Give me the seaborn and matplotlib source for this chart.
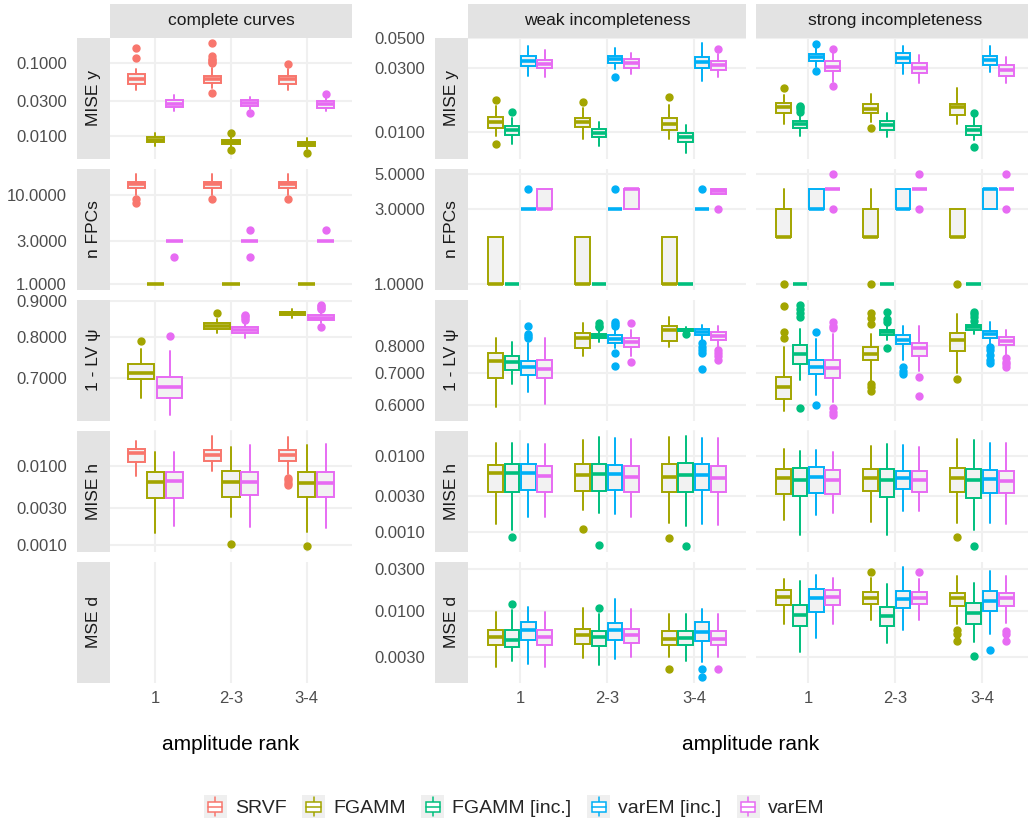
import numpy as np
import matplotlib
matplotlib.use("Agg")
import matplotlib.pyplot as plt
import seaborn as sns
from matplotlib.patches import Rectangle, Patch
from matplotlib.lines import Line2D
from matplotlib.legend_handler import HandlerBase
from matplotlib.ticker import FixedLocator, FuncFormatter, NullLocator

# ---------------------------------------------------------------------------
# categories
RANKS = ["1", "2-3", "3-4"]
METHODS = ["SRVF", "FGAMM", "FGAMM [inc.]", "varEM [inc.]", "varEM"]
METRICS = ["MISE y", "n FPCs", "1 - LV \u03c8", "MISE h", "MSE d"]
SCENARIOS = ["complete curves", "weak incompleteness", "strong incompleteness"]
COLORS = ["#F8766D", "#A3A500", "#00BF7D", "#00B0F6", "#E76BF3"]

# box summaries per method: one (lower whisker, q1, median, q3, upper whisker)
# tuple per amplitude rank; outliers listed separately per rank
MISE_Y_COMPLETE = {
    "SRVF": [(0.0428, 0.0506, 0.0592, 0.0693, 0.0828), (0.0446, 0.0527, 0.0598, 0.0665, 0.0836), (0.0428, 0.0518, 0.0592, 0.0665, 0.0828)],
    "FGAMM": [(0.00725, 0.0082, 0.00893, 0.00969, 0.0110), (0.00708, 0.0077, 0.0084, 0.00893, 0.0102), (0.00659, 0.00725, 0.00788, 0.0084, 0.0095)],
    "varEM": [(0.0217, 0.0248, 0.0276, 0.0306, 0.0358), (0.0236, 0.0254, 0.0282, 0.0306, 0.0340), (0.0217, 0.0244, 0.0270, 0.0297, 0.0334)],
}
MISE_Y_COMPLETE_OUT = {
    "SRVF": [[0.160, 0.117], [0.185, 0.122, 0.112, 0.107, 0.102, 0.098, 0.0385], [0.0969]],
    "FGAMM": [[], [0.0111, 0.00638], [0.00587]],
    "varEM": [[], [0.0206], [0.0378]],
}
NFPC_COMPLETE = {
    "SRVF": [(10, 12, 13, 14, 17), (10, 12, 13, 14, 17), (10, 12, 13, 14, 17)],
    "FGAMM": [(1, 1, 1, 1, 1), (1, 1, 1, 1, 1), (1, 1, 1, 1, 1)],
    "varEM": [(3, 3, 3, 3, 3), (3, 3, 3, 3, 3), (3, 3, 3, 3, 3)],
}
NFPC_COMPLETE_OUT = {
    "SRVF": [[9, 8], [9], [9]],
    "FGAMM": [[], [], []],
    "varEM": [[2], [4, 2], [4]],
}
LV_COMPLETE = {
    "FGAMM": [(0.655, 0.698, 0.711, 0.732, 0.768), (0.811, 0.822, 0.830, 0.838, 0.850), (0.851, 0.859, 0.865, 0.870, 0.878)],
    "varEM": [(0.619, 0.655, 0.678, 0.701, 0.765), (0.797, 0.811, 0.818, 0.826, 0.836), (0.838, 0.847, 0.853, 0.861, 0.870)],
}
LV_COMPLETE_OUT = {
    "FGAMM": [[0.789], [0.866], []],
    "varEM": [[0.804], [0.847, 0.852, 0.856, 0.859], [0.876, 0.881, 0.885, 0.889, 0.826]],
}
MISE_H_COMPLETE = {
    "SRVF": [(0.00745, 0.01135, 0.01452, 0.01664, 0.02104), (0.0087, 0.01169, 0.01382, 0.0160, 0.02415), (0.00807, 0.01158, 0.0137, 0.0160, 0.02366)],
    "FGAMM": [(0.00145, 0.00398, 0.0063, 0.00846, 0.01523), (0.00225, 0.00414, 0.0063, 0.00863, 0.01764), (0.00149, 0.00414, 0.00612, 0.00846, 0.01838)],
    "varEM": [(0.00175, 0.00398, 0.00649, 0.00846, 0.01523), (0.00168, 0.00427, 0.0063, 0.00846, 0.01838), (0.00165, 0.00406, 0.00612, 0.00846, 0.0191)],
}
MISE_H_COMPLETE_OUT = {
    "SRVF": [[], [], [0.0072, 0.0067, 0.0062, 0.0058]],
    "FGAMM": [[], [0.00103], [0.00098]],
    "varEM": [[], [], []],
}

MISE_Y_WEAK = {
    "FGAMM": [(0.00939, 0.01082, 0.01193, 0.01306, 0.01569), (0.00902, 0.0109, 0.01199, 0.01284, 0.01508), (0.00902, 0.0104, 0.01152, 0.0127, 0.01596)],
    "FGAMM [inc.]": [(0.00819, 0.00966, 0.0104, 0.01114, 0.0127), (0.00791, 0.00927, 0.00993, 0.01053, 0.01199), (0.00705, 0.00851, 0.00918, 0.00983, 0.01133)],
    "varEM [inc.]": [(0.02621, 0.03111, 0.03389, 0.03648, 0.04329), (0.02939, 0.03292, 0.03508, 0.03693, 0.0421), (0.02406, 0.0299, 0.03332, 0.03611, 0.04589)],
    "varEM": [(0.02564, 0.0299, 0.03236, 0.03447, 0.04093), (0.02713, 0.0302, 0.03258, 0.0349, 0.03868), (0.0259, 0.02906, 0.03165, 0.0335, 0.03802)],
}
MISE_Y_WEAK_OUT = {
    "FGAMM": [[0.01738, 0.00828], [0.01689], [0.0182]],
    "FGAMM [inc.]": [[0.01423], [], []],
    "varEM [inc.]": [[], [0.0259], []],
    "varEM": [[], [], [0.0414]],
}
MISE_Y_STRONG = {
    "FGAMM": [(0.01152, 0.01398, 0.01534, 0.0166, 0.01894), (0.01199, 0.01384, 0.01497, 0.01623, 0.01927), (0.01152, 0.01344, 0.0155, 0.01623, 0.02124)],
    "FGAMM [inc.]": [(0.00939, 0.01071, 0.01147, 0.0122, 0.01384), (0.00927, 0.0104, 0.01127, 0.0122, 0.01398), (0.00877, 0.00966, 0.0104, 0.01114, 0.01306)],
    "varEM [inc.]": [(0.03074, 0.0335, 0.03611, 0.03821, 0.04329), (0.02713, 0.03258, 0.03549, 0.03868, 0.0438), (0.02822, 0.03165, 0.03447, 0.03693, 0.04329)],
    "varEM": [(0.02378, 0.02855, 0.03074, 0.0335, 0.03868), (0.02313, 0.02774, 0.0302, 0.03258, 0.03755), (0.02337, 0.02621, 0.02906, 0.03165, 0.03611)],
}
MISE_Y_STRONG_OUT = {
    "FGAMM": [[0.02146], [0.01071], []],
    "FGAMM [inc.]": [[0.01569, 0.01536, 0.01503, 0.01423], [], [0.01398, 0.00782]],
    "varEM [inc.]": [[0.04535, 0.0287], [], []],
    "varEM": [[0.04161, 0.02209], [], []],
}
NFPC_WEAK = {
    "FGAMM": [(1, 1, 1, 2, 2), (1, 1, 1, 2, 2), (1, 1, 1, 2, 2)],
    "FGAMM [inc.]": [(1, 1, 1, 1, 1), (1, 1, 1, 1, 1), (1, 1, 1, 1, 1)],
    "varEM [inc.]": [(3, 3, 3, 3, 3), (3, 3, 3, 3, 3), (3, 3, 3, 3, 3)],
    "varEM": [(3, 3, 3, 4, 4), (3, 3, 4, 4, 4), (3.75, 3.75, 3.88, 4, 4)],
}
NFPC_WEAK_OUT = {
    "FGAMM": [[], [], []],
    "FGAMM [inc.]": [[], [], []],
    "varEM [inc.]": [[4], [4], [4]],
    "varEM": [[], [], [3]],
}
NFPC_STRONG = {
    "FGAMM": [(2, 2, 2, 3, 4), (2, 2, 2, 3, 4), (2, 2, 2, 3, 3)],
    "FGAMM [inc.]": [(1, 1, 1, 1, 1), (1, 1, 1, 1, 1), (1, 1, 1, 1, 1)],
    "varEM [inc.]": [(3, 3, 3, 4, 4), (3, 3, 3, 4, 4), (3, 3, 4, 4, 4)],
    "varEM": [(4, 4, 4, 4, 4), (4, 4, 4, 4, 4), (4, 4, 4, 4, 4)],
}
NFPC_STRONG_OUT = {
    "FGAMM": [[1], [1], [1]],
    "FGAMM [inc.]": [[], [], []],
    "varEM [inc.]": [[], [], []],
    "varEM": [[5, 3], [5, 3], [5, 3]],
}
LV_WEAK = {
    "FGAMM": [(0.5934, 0.6826, 0.7437, 0.7738, 0.8326), (0.7617, 0.7901, 0.8287, 0.8511, 0.8926), (0.7940, 0.8193, 0.8623, 0.8789, 0.9188)],
    "FGAMM [inc.]": [(0.6634, 0.7101, 0.7377, 0.7617, 0.8154), (0.8154, 0.8287, 0.8380, 0.8487, 0.8705), (0.8551, 0.8593, 0.8649, 0.8692, 0.8745)],
    "varEM [inc.]": [(0.6376, 0.6924, 0.7203, 0.7437, 0.8091), (0.7901, 0.8115, 0.8260, 0.8420, 0.8692), (0.8220, 0.8420, 0.8551, 0.8692, 0.8872)],
    "varEM": [(0.6030, 0.6817, 0.7126, 0.7472, 0.8287), (0.7617, 0.7962, 0.8154, 0.8326, 0.8649), (0.7940, 0.8220, 0.8380, 0.8551, 0.8830)],
}
LV_WEAK_OUT = {
    "FGAMM": [[], [], []],
    "FGAMM [inc.]": [[], [0.8926, 0.883, 0.878], [0.8487]],
    "varEM [inc.]": [[0.883, 0.8487, 0.8378, 0.8287], [0.897, 0.891, 0.883, 0.7738, 0.7238], [0.809, 0.7951, 0.7839, 0.7717, 0.7148]],
    "varEM": [[], [0.8958, 0.7390], [0.7839, 0.7735, 0.7617, 0.7472]],
}
LV_STRONG = {
    "FGAMM": [(0.5812, 0.6175, 0.6528, 0.6881, 0.7940), (0.6739, 0.7447, 0.7689, 0.7940, 0.8487), (0.7013, 0.7814, 0.8220, 0.8511, 0.9363)],
    "FGAMM [inc.]": [(0.6771, 0.7329, 0.7689, 0.8028, 0.8692), (0.8220, 0.8420, 0.8551, 0.8649, 0.8830), (0.8487, 0.8649, 0.8760, 0.8858, 0.8970)],
    "varEM [inc.]": [(0.6293, 0.6958, 0.7203, 0.7472, 0.8248), (0.7472, 0.8064, 0.8220, 0.8420, 0.8830), (0.8028, 0.8326, 0.8487, 0.8593, 0.8970)],
    "varEM": [(0.6078, 0.6817, 0.7169, 0.7472, 0.8458), (0.7066, 0.7617, 0.7901, 0.8091, 0.8789), (0.7642, 0.8028, 0.8193, 0.8350, 0.8649)],
}
LV_STRONG_OUT = {
    "FGAMM": [[0.9714, 0.8554, 0.8287], [0.9408, 0.9143, 0.8901, 0.6634, 0.654, 0.6424], [0.6792]],
    "FGAMM [inc.]": [[0.9761, 0.957, 0.939, 0.9188, 0.5907], [0.9454, 0.9118, 0.897, 0.7901], [0.9454, 0.934, 0.922, 0.9043]],
    "varEM [inc.]": [[0.8554, 0.600], [0.7215, 0.7086, 0.6958], [0.7962, 0.7839, 0.7642, 0.7472, 0.7358]],
    "varEM": [[0.897, 0.883, 0.872, 0.5888, 0.580, 0.5702], [0.6881, 0.6272], [0.7522, 0.7395, 0.7326, 0.7203]],
}
MISE_H_WEAK = {
    "FGAMM": [(0.00128, 0.00338, 0.00593, 0.00768, 0.01491), (0.00195, 0.00349, 0.00565, 0.00775, 0.01654), (0.00132, 0.00338, 0.00536, 0.00792, 0.01792)],
    "FGAMM [inc.]": [(0.00104, 0.00338, 0.00601, 0.00792, 0.0151), (0.00179, 0.00349, 0.00582, 0.00792, 0.01792), (0.00119, 0.00338, 0.0057, 0.00806, 0.01848)],
    "varEM [inc.]": [(0.00157, 0.0036, 0.00593, 0.00775, 0.01463), (0.00171, 0.0036, 0.00575, 0.00768, 0.01722), (0.00128, 0.00356, 0.00565, 0.00775, 0.01759)],
    "varEM": [(0.00154, 0.00338, 0.00548, 0.00736, 0.01432), (0.00154, 0.00338, 0.00536, 0.00729, 0.01669), (0.00122, 0.00338, 0.00509, 0.00736, 0.01759)],
}
MISE_H_WEAK_OUT = {
    "FGAMM": [[], [0.00108], [0.000832]],
    "FGAMM [inc.]": [[0.000858], [0.000665], [0.000645]],
    "varEM [inc.]": [[], [], []],
    "varEM": [[], [], []],
}
MISE_H_STRONG = {
    "FGAMM": [(0.00142, 0.00315, 0.00515, 0.00679, 0.01228), (0.00136, 0.00349, 0.00509, 0.00679, 0.01347), (0.00132, 0.00338, 0.00509, 0.00692, 0.01669)],
    "FGAMM [inc.]": [(0.000895, 0.00293, 0.00485, 0.0070, 0.01155), (0.000895, 0.0029, 0.00485, 0.00679, 0.01432), (0.00104, 0.00279, 0.00485, 0.00671, 0.01619)],
    "varEM [inc.]": [(0.00165, 0.00325, 0.00525, 0.00713, 0.01191), (0.00189, 0.00367, 0.00515, 0.00645, 0.01419), (0.00132, 0.00325, 0.0050, 0.00665, 0.0151)],
    "varEM": [(0.00174, 0.00315, 0.00485, 0.00665, 0.0113), (0.00185, 0.00338, 0.00485, 0.00631, 0.01318), (0.00128, 0.00325, 0.00474, 0.00645, 0.0151)],
}
MISE_H_STRONG_OUT = {
    "FGAMM": [[], [], [0.000858]],
    "FGAMM [inc.]": [[], [], [0.000645]],
    "varEM [inc.]": [[], [], []],
    "varEM": [[], [], []],
}
MSE_D_WEAK = {
    "FGAMM": [(0.00233, 0.00413, 0.00504, 0.00613, 0.00974), (0.00293, 0.00424, 0.00528, 0.00629, 0.01065), (0.00298, 0.00416, 0.00484, 0.00591, 0.00934)],
    "FGAMM [inc.]": [(0.00268, 0.00388, 0.00471, 0.00601, 0.01019), (0.00246, 0.00406, 0.00504, 0.00591, 0.00934), (0.00268, 0.00416, 0.00497, 0.00591, 0.00934)],
    "varEM [inc.]": [(0.0025, 0.00471, 0.00613, 0.00748, 0.01094), (0.00286, 0.00471, 0.00601, 0.00737, 0.0135), (0.00266, 0.00462, 0.00575, 0.00748, 0.01037)],
    "varEM": [(0.00233, 0.00416, 0.00504, 0.00613, 0.00974), (0.00298, 0.00431, 0.00528, 0.00629, 0.01045), (0.00298, 0.00416, 0.00484, 0.00591, 0.00934)],
}
MSE_D_WEAK_OUT = {
    "FGAMM": [[], [], [0.0022]],
    "FGAMM [inc.]": [[0.01183], [0.01082], []],
    "varEM [inc.]": [[], [], [0.00223, 0.00179]],
    "varEM": [[], [], [0.0022]],
}
MSE_D_STRONG = {
    "FGAMM": [(0.00718, 0.01162, 0.01422, 0.01724, 0.02285), (0.00783, 0.01193, 0.01386, 0.01648, 0.02346), (0.00718, 0.0114, 0.01386, 0.01581, 0.02492)],
    "FGAMM [inc.]": [(0.0034, 0.00669, 0.00893, 0.01162, 0.02185), (0.00431, 0.00669, 0.0087, 0.0111, 0.02019), (0.00442, 0.00718, 0.00949, 0.01234, 0.02056)],
    "varEM [inc.]": [(0.00497, 0.00974, 0.01386, 0.0177, 0.02559), (0.00601, 0.01065, 0.0136, 0.01693, 0.03133), (0.00552, 0.00992, 0.01291, 0.0168, 0.0279)],
    "varEM": [(0.00718, 0.01162, 0.01445, 0.01724, 0.02346), (0.00783, 0.01183, 0.01386, 0.01622, 0.02285), (0.00729, 0.0114, 0.01386, 0.01581, 0.02492)],
}
MSE_D_STRONG_OUT = {
    "FGAMM": [[], [0.02719], [0.00613, 0.00552, 0.00462]],
    "FGAMM [inc.]": [[], [], [0.00312]],
    "varEM [inc.]": [[], [], [0.00365]],
    "varEM": [[], [0.02719], [0.00591, 0.00542, 0.00462]],
}

# y-axis breaks of each facet row, left grid and right grid
LEFT_BREAKS = {"MISE y": [0.01, 0.03, 0.1], "n FPCs": [1, 3, 10], "1 - LV \u03c8": [0.7, 0.8, 0.9],
               "MISE h": [0.001, 0.003, 0.01], "MSE d": []}
RIGHT_BREAKS = {"MISE y": [0.01, 0.03, 0.05], "n FPCs": [1, 3, 5], "1 - LV \u03c8": [0.6, 0.7, 0.8],
                "MISE h": [0.001, 0.003, 0.01], "MSE d": [0.003, 0.01, 0.03]}

PANELS = {
    ("complete curves", "MISE y"): (MISE_Y_COMPLETE, MISE_Y_COMPLETE_OUT),
    ("complete curves", "n FPCs"): (NFPC_COMPLETE, NFPC_COMPLETE_OUT),
    ("complete curves", "1 - LV \u03c8"): (LV_COMPLETE, LV_COMPLETE_OUT),
    ("complete curves", "MISE h"): (MISE_H_COMPLETE, MISE_H_COMPLETE_OUT),
    ("weak incompleteness", "MISE y"): (MISE_Y_WEAK, MISE_Y_WEAK_OUT),
    ("weak incompleteness", "n FPCs"): (NFPC_WEAK, NFPC_WEAK_OUT),
    ("weak incompleteness", "1 - LV \u03c8"): (LV_WEAK, LV_WEAK_OUT),
    ("weak incompleteness", "MISE h"): (MISE_H_WEAK, MISE_H_WEAK_OUT),
    ("weak incompleteness", "MSE d"): (MSE_D_WEAK, MSE_D_WEAK_OUT),
    ("strong incompleteness", "MISE y"): (MISE_Y_STRONG, MISE_Y_STRONG_OUT),
    ("strong incompleteness", "n FPCs"): (NFPC_STRONG, NFPC_STRONG_OUT),
    ("strong incompleteness", "1 - LV \u03c8"): (LV_STRONG, LV_STRONG_OUT),
    ("strong incompleteness", "MISE h"): (MISE_H_STRONG, MISE_H_STRONG_OUT),
    ("strong incompleteness", "MSE d"): (MSE_D_STRONG, MSE_D_STRONG_OUT),
}

# ---------------------------------------------------------------------------
sns.set_theme(style="white")
plt.rcParams["font.family"] = ["Liberation Sans", "DejaVu Sans"]
PALETTE = dict(zip(METHODS, sns.color_palette(COLORS)))

W, H = 1028, 827
fig = plt.figure(figsize=(W / 100, H / 100), dpi=100)
fig.patch.set_facecolor("white")

GRID_COL = "#F0F0F0"
STRIP_COL = "#E3E3E3"
BOX_FILL = "#F2F2F2"
ROW_TOPS = [37.5, 168.5, 299.5, 430.5, 561.5]
ROW_H = 121
COLS = {"complete curves": (110, 352), "weak incompleteness": (468, 746),
        "strong incompleteness": (756, 1034)}
ROW_STRIP_X = {"left": (77, 110), "right": (435, 468)}


def rect(x0, y0, x1, y1):
    return [x0 / W, 1 - y1 / H, (x1 - x0) / W, (y1 - y0) / H]


def log_limits(panels):
    vals = []
    for stats, fliers in panels:
        for m in stats:
            for r in range(len(RANKS)):
                vals += [stats[m][r][0], stats[m][r][4]]
                vals += list(fliers[m][r])
    lo, hi = np.log10(min(vals)), np.log10(max(vals))
    pad = 0.05 * (hi - lo)
    return 10 ** (lo - pad), 10 ** (hi + pad)


def draw_boxes(ax, stats, fliers):
    present = [m for m in METHODS if m in stats]
    n = len(present)
    slot = 0.75 / n
    for i, m in enumerate(present):
        col = PALETTE[m]
        for r in range(len(RANKS)):
            lo, q1, med, q3, hi = stats[m][r]
            pos = r + (i - (n - 1) / 2) * slot
            summary = dict(whislo=lo, q1=q1, med=med, q3=q3, whishi=hi,
                           fliers=np.array(fliers[m][r], dtype=float))
            ax.bxp([summary], positions=[pos], widths=slot * 0.9,
                   patch_artist=True, showcaps=False, manage_ticks=False,
                   boxprops=dict(facecolor=BOX_FILL, edgecolor=col, linewidth=1.4),
                   whiskerprops=dict(color=col, linewidth=1.4),
                   medianprops=dict(color=col, linewidth=2.6, solid_capstyle="butt"),
                   flierprops=dict(marker="o", markerfacecolor=col, markeredgecolor=col,
                                   markersize=5, linestyle="none"))


def style_axes(ax, breaks, ylim, show_y, show_x):
    ax.set_facecolor("white")
    for s in ax.spines.values():
        s.set_visible(False)
    ax.set_yscale("log")
    ax.set_ylim(*ylim)
    ax.set_xlim(-0.6, len(RANKS) - 0.4)
    ax.yaxis.set_major_locator(FixedLocator(breaks))
    ax.yaxis.set_minor_locator(NullLocator())
    ax.yaxis.set_major_formatter(FuncFormatter(lambda v, p: f"{v:.4f}"))
    ax.set_xticks(range(len(RANKS)))
    ax.set_xticklabels(RANKS)
    ax.tick_params(axis="both", length=0, labelsize=12, labelcolor="#4D4D4D")
    ax.tick_params(axis="y", pad=31)
    ax.tick_params(axis="x", pad=6)
    ax.grid(True, which="major", color=GRID_COL, linewidth=1.5)
    ax.set_axisbelow(True)
    if not show_y:
        ax.tick_params(axis="y", labelleft=False)
    if not show_x:
        ax.tick_params(axis="x", labelbottom=False)


def strip(x0, y0, x1, y1, label, rotation=0):
    fig.add_artist(Rectangle((x0 / W, 1 - y1 / H), (x1 - x0) / W, (y1 - y0) / H,
                             transform=fig.transFigure, facecolor=STRIP_COL,
                             edgecolor="none", zorder=0))
    fig.text((x0 + x1) / 2 / W, 1 - (y0 + y1) / 2 / H, label, rotation=rotation,
             ha="center", va="center", fontsize=12.5, color="#1A1A1A")


# shared y-ranges per facet row
left_lims, right_lims = {}, {}
for metric in METRICS:
    lp = [PANELS[k] for k in PANELS if k[1] == metric and k[0] == "complete curves"]
    rp = [PANELS[k] for k in PANELS if k[1] == metric and k[0] != "complete curves"]
    left_lims[metric] = log_limits(lp) if lp else (0.001, 0.01)
    right_lims[metric] = log_limits(rp)

for ri, metric in enumerate(METRICS):
    top = ROW_TOPS[ri]
    bottom = top + ROW_H
    last = ri == len(METRICS) - 1
    for scen in SCENARIOS:
        x0, x1 = COLS[scen]
        ax = fig.add_axes(rect(x0, top, x1, bottom))
        left_grid = scen == "complete curves"
        breaks = (LEFT_BREAKS if left_grid else RIGHT_BREAKS)[metric]
        lims = (left_lims if left_grid else right_lims)[metric]
        style_axes(ax, breaks, lims, show_y=scen != "strong incompleteness", show_x=last)
        if (scen, metric) in PANELS:
            stats, fliers = PANELS[(scen, metric)]
            draw_boxes(ax, stats, fliers)
    for side in ("left", "right"):
        sx0, sx1 = ROW_STRIP_X[side]
        strip(sx0, top, sx1, bottom, metric, rotation=90)

for scen in SCENARIOS:
    x0, x1 = COLS[scen]
    strip(x0, 4, x1, 37.5, scen)

# axis titles
fig.text(231 / W, 1 - 744 / H, "amplitude rank", ha="center", va="center", fontsize=15, color="black")
fig.text(751 / W, 1 - 744 / H, "amplitude rank", ha="center", va="center", fontsize=15, color="black")


# legend with boxplot glyph keys
class BoxKey(HandlerBase):
    def create_artists(self, legend, orig_handle, xdescent, ydescent, width, height, fontsize, trans):
        col = orig_handle.get_edgecolor()
        x0, y0 = -xdescent, -ydescent
        side = height * 1.45
        sy0 = y0 + height / 2 - side / 2
        sx0 = x0 + width / 2 - side / 2
        cx = x0 + width / 2
        bg = Rectangle((sx0, sy0), side, side, facecolor="#EFEFEF", edgecolor="none", transform=trans)
        whisk = Line2D([cx, cx], [sy0 + side * 0.1, sy0 + side * 0.9], color=col, lw=1.1, transform=trans)
        box = Rectangle((cx - side * 0.3, sy0 + side * 0.28), side * 0.6, side * 0.44,
                        facecolor="white", edgecolor=col, lw=1.1, transform=trans)
        med = Line2D([cx - side * 0.3, cx + side * 0.3], [sy0 + side / 2] * 2, color=col, lw=1.1, transform=trans)
        return [bg, whisk, box, med]


handles = [Patch(facecolor="white", edgecolor=PALETTE[m], label=m) for m in METHODS]
fig.legend(handles=handles, labels=METHODS, loc="center", bbox_to_anchor=(0.5, 1 - 808 / H),
           ncol=len(METHODS), frameon=False, fontsize=14, handlelength=1.2, handleheight=0.9,
           handletextpad=0.4, columnspacing=0.8, handler_map={Patch: BoxKey()})

fig.savefig("out.png", dpi=100, facecolor="white")
